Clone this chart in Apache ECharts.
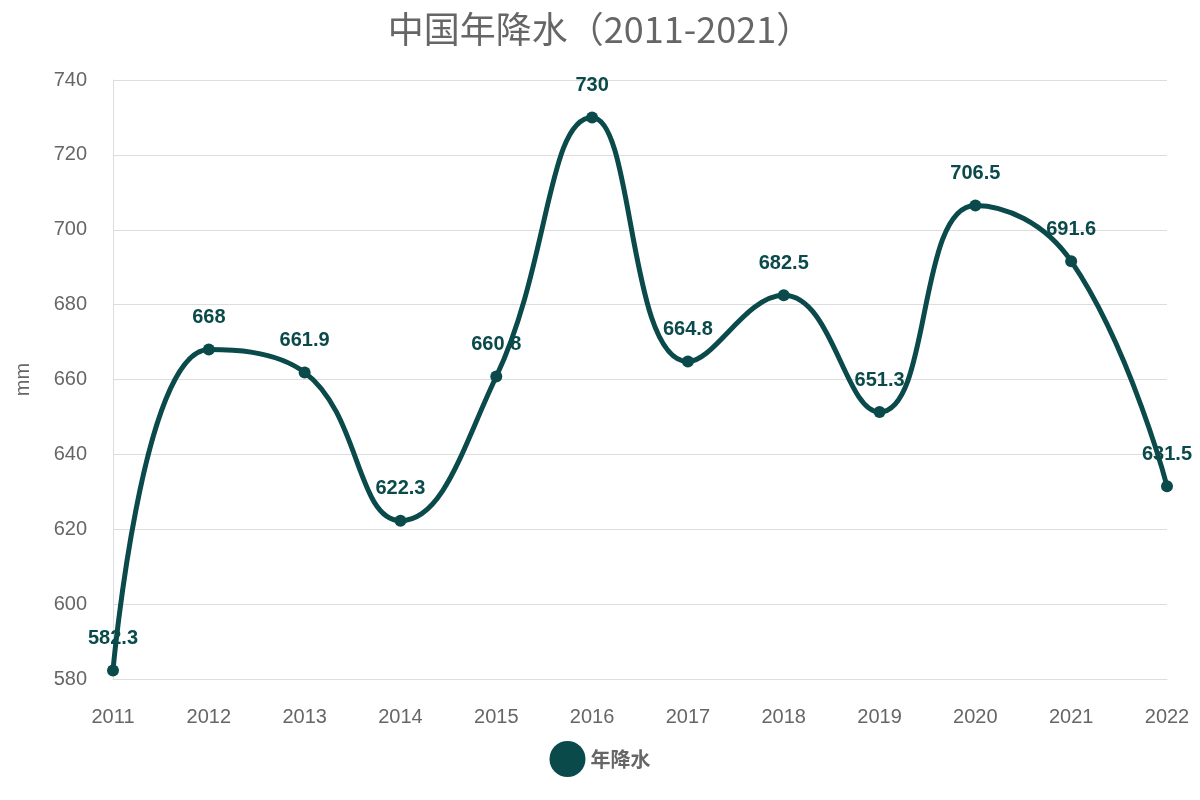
<!DOCTYPE html>
<html><head><meta charset="utf-8">
<script src="https://cdn.jsdelivr.net/npm/echarts@6/dist/echarts.min.js"></script>
<style>html,body{margin:0;padding:0;background:#fff}#c{width:1200px;height:800px}</style>
</head><body><div id="c"></div>
<script>
const years = ['2011','2012','2013','2014','2015','2016','2017','2018','2019','2020','2021','2022'];
const rainfall = [582.3,668,661.9,622.3,660.8,730,664.8,682.5,651.3,706.5,691.6,631.5];
const yTicks = {min:580,max:740,interval:20};
const color = '#0b4a4a';
const chart = echarts.init(document.getElementById('c'));
chart.setOption({
  title:{text:'中国年降水（2011-2021）',left:'center',top:6,textStyle:{fontSize:36,fontWeight:'normal',color:'#666',fontFamily:'Noto Sans CJK SC'}},
  grid:{left:113,right:33,top:80,bottom:121},
  legend:{bottom:18,left:'center',icon:'circle',itemWidth:36,itemHeight:36,itemGap:8,
    textStyle:{fontSize:20,fontWeight:'bold',color:'#666',fontFamily:'Noto Sans CJK SC'},data:['年降水']},
  xAxis:{type:'category',data:years,boundaryGap:false,
    axisLine:{lineStyle:{color:'#ddd'}},axisTick:{show:false},
    axisLabel:{fontSize:20,color:'#666',margin:28,fontFamily:'Liberation Sans'},
    splitLine:{show:false}},
  yAxis:{type:'value',min:yTicks.min,max:yTicks.max,interval:yTicks.interval,name:'mm',
    nameLocation:'middle',nameGap:80,nameTextStyle:{fontSize:20,color:'#666'},
    axisLabel:{fontSize:20,color:'#666',margin:26,fontFamily:'Liberation Sans'},
    axisLine:{show:true,lineStyle:{color:'#ddd'}},
    splitLine:{lineStyle:{color:'#ddd'}}},
  series:[{name:'年降水',type:'line',data:rainfall,smooth:0.45,symbol:'circle',symbolSize:12,
    itemStyle:{color:color},lineStyle:{width:5,color:color},
    label:{show:true,position:'top',distance:16,fontSize:20,fontWeight:'bold',color:color,fontFamily:'Liberation Sans'}}]
});
</script></body></html>
